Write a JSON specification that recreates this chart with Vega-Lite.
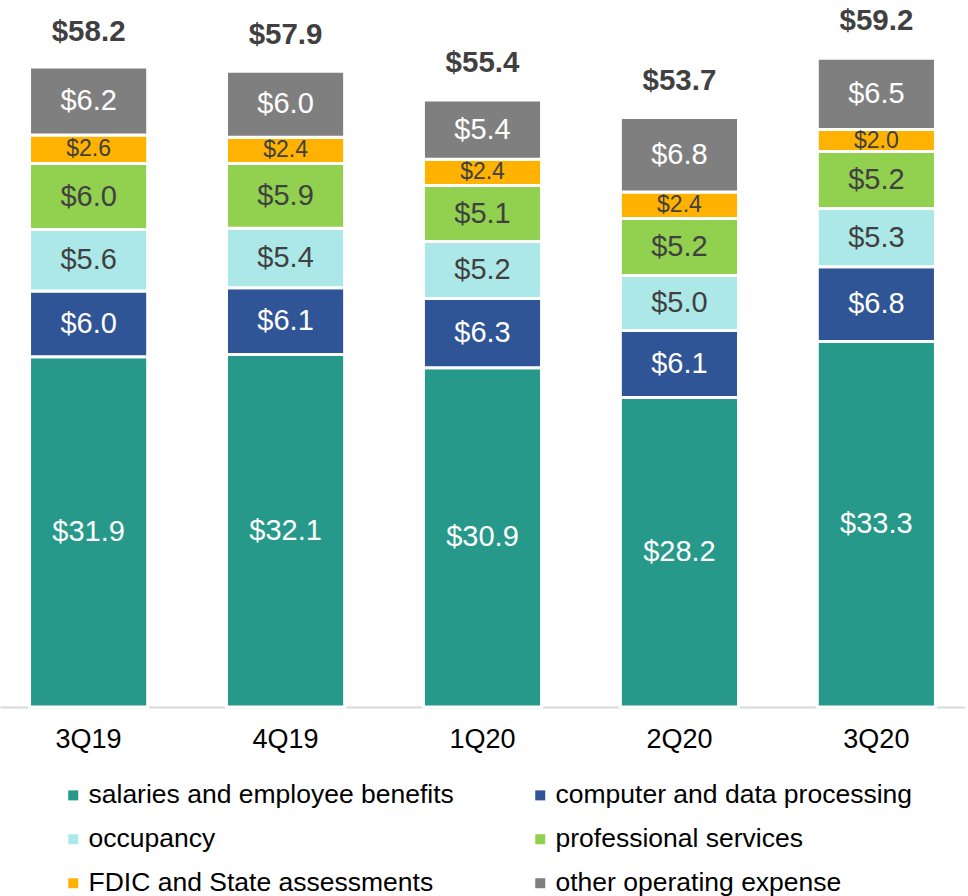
{
  "$schema": "https://vega.github.io/schema/vega-lite/v6.json",
  "width": 965,
  "height": 707,
  "padding": 0,
  "config": {"font": "Liberation Sans", "view": {"stroke": null}},
  "datasets": {
    "segments": [
      {"quarter": "3Q19", "series": "salaries and employee benefits", "value": 31.9},
      {"quarter": "3Q19", "series": "computer and data processing", "value": 6.0},
      {"quarter": "3Q19", "series": "occupancy", "value": 5.6},
      {"quarter": "3Q19", "series": "professional services", "value": 6.0},
      {"quarter": "3Q19", "series": "FDIC and State assessments", "value": 2.6},
      {"quarter": "3Q19", "series": "other operating expense", "value": 6.2},
      {"quarter": "4Q19", "series": "salaries and employee benefits", "value": 32.1},
      {"quarter": "4Q19", "series": "computer and data processing", "value": 6.1},
      {"quarter": "4Q19", "series": "occupancy", "value": 5.4},
      {"quarter": "4Q19", "series": "professional services", "value": 5.9},
      {"quarter": "4Q19", "series": "FDIC and State assessments", "value": 2.4},
      {"quarter": "4Q19", "series": "other operating expense", "value": 6.0},
      {"quarter": "1Q20", "series": "salaries and employee benefits", "value": 30.9},
      {"quarter": "1Q20", "series": "computer and data processing", "value": 6.3},
      {"quarter": "1Q20", "series": "occupancy", "value": 5.2},
      {"quarter": "1Q20", "series": "professional services", "value": 5.1},
      {"quarter": "1Q20", "series": "FDIC and State assessments", "value": 2.4},
      {"quarter": "1Q20", "series": "other operating expense", "value": 5.4},
      {"quarter": "2Q20", "series": "salaries and employee benefits", "value": 28.2},
      {"quarter": "2Q20", "series": "computer and data processing", "value": 6.1},
      {"quarter": "2Q20", "series": "occupancy", "value": 5.0},
      {"quarter": "2Q20", "series": "professional services", "value": 5.2},
      {"quarter": "2Q20", "series": "FDIC and State assessments", "value": 2.4},
      {"quarter": "2Q20", "series": "other operating expense", "value": 6.8},
      {"quarter": "3Q20", "series": "salaries and employee benefits", "value": 33.3},
      {"quarter": "3Q20", "series": "computer and data processing", "value": 6.8},
      {"quarter": "3Q20", "series": "occupancy", "value": 5.3},
      {"quarter": "3Q20", "series": "professional services", "value": 5.2},
      {"quarter": "3Q20", "series": "FDIC and State assessments", "value": 2.0},
      {"quarter": "3Q20", "series": "other operating expense", "value": 6.5}
    ],
    "totals": [
      {"quarter": "3Q19", "total": 58.2},
      {"quarter": "4Q19", "total": 57.9},
      {"quarter": "1Q20", "total": 55.4},
      {"quarter": "2Q20", "total": 53.7},
      {"quarter": "3Q20", "total": 59.2}
    ]
  },
  "encoding": {
    "x": {
      "field": "quarter",
      "type": "nominal",
      "sort": ["3Q19", "4Q19", "1Q20", "2Q20", "3Q20"],
      "scale": {"paddingInner": 0.4, "paddingOuter": 0.15},
      "axis": {
        "title": null,
        "labelAngle": 0,
        "labelFontSize": 27,
        "labelColor": "#000000",
        "ticks": false,
        "domainColor": "#d9d9d9",
        "domainWidth": 2,
        "labelPadding": 19
      }
    }
  },
  "layer": [
    {
      "data": {"name": "segments"},
      "transform": [
        {"calculate": "indexof(['salaries and employee benefits','computer and data processing','occupancy','professional services','FDIC and State assessments','other operating expense'], datum.series)", "as": "rank"},
        {"stack": "value", "groupby": ["quarter"], "sort": [{"field": "rank", "order": "ascending"}], "as": ["v0", "v1"]}
      ],
      "mark": {"type": "bar", "stroke": "white", "strokeWidth": 3},
      "encoding": {
        "y": {"field": "v1", "type": "quantitative", "scale": {"domain": [0, 64.4], "nice": false, "zero": true}, "axis": null},
        "y2": {"field": "v0"},
        "color": {
          "field": "series",
          "type": "nominal",
          "scale": {
            "domain": ["salaries and employee benefits", "computer and data processing", "occupancy", "professional services", "FDIC and State assessments", "other operating expense"],
            "range": ["#26998a", "#2f5597", "#ade8e9", "#92d050", "#ffb300", "#7f7f7f"]
          },
          "legend": {
            "orient": "none",
            "direction": "horizontal",
            "legendX": 60,
            "legendY": 782,
            "columns": 2,
            "title": null,
            "symbolType": "square",
            "symbolSize": 100,
            "symbolStrokeWidth": 0,
            "symbolOpacity": 1,
            "labelFontSize": 26.5,
            "labelColor": "#000000",
            "labelLimit": 600,
            "labelOffset": 2,
            "columnPadding": 73,
            "rowPadding": 17,
            "padding": 0
          }
        }
      }
    },
    {
      "data": {"name": "segments"},
      "transform": [
        {"calculate": "indexof(['salaries and employee benefits','computer and data processing','occupancy','professional services','FDIC and State assessments','other operating expense'], datum.series)", "as": "rank"},
        {"stack": "value", "groupby": ["quarter"], "sort": [{"field": "rank", "order": "ascending"}], "as": ["v0", "v1"]},
        {"calculate": "(datum.v0 + datum.v1) / 2", "as": "mid"}
      ],
      "mark": {"type": "text", "baseline": "middle", "align": "center"},
      "encoding": {
        "y": {"field": "mid", "type": "quantitative", "scale": {"domain": [0, 64.4], "nice": false, "zero": true}, "axis": null},
        "text": {"field": "value", "type": "quantitative", "format": "$.1f"},
        "color": {
          "condition": {"test": "indexof(['occupancy','professional services','FDIC and State assessments'], datum.series) >= 0", "value": "#404040"},
          "value": "#ffffff"
        },
        "size": {
          "condition": {"test": "datum.series === 'FDIC and State assessments'", "value": 23},
          "value": 29
        }
      }
    },
    {
      "data": {"name": "totals"},
      "mark": {"type": "text", "baseline": "middle", "align": "center", "fontWeight": "bold", "fontSize": 29.5, "dy": -36, "color": "#404040"},
      "encoding": {
        "y": {"field": "total", "type": "quantitative", "scale": {"domain": [0, 64.4], "nice": false, "zero": true}, "axis": null},
        "text": {"field": "total", "type": "quantitative", "format": "$.1f"}
      }
    }
  ]
}
